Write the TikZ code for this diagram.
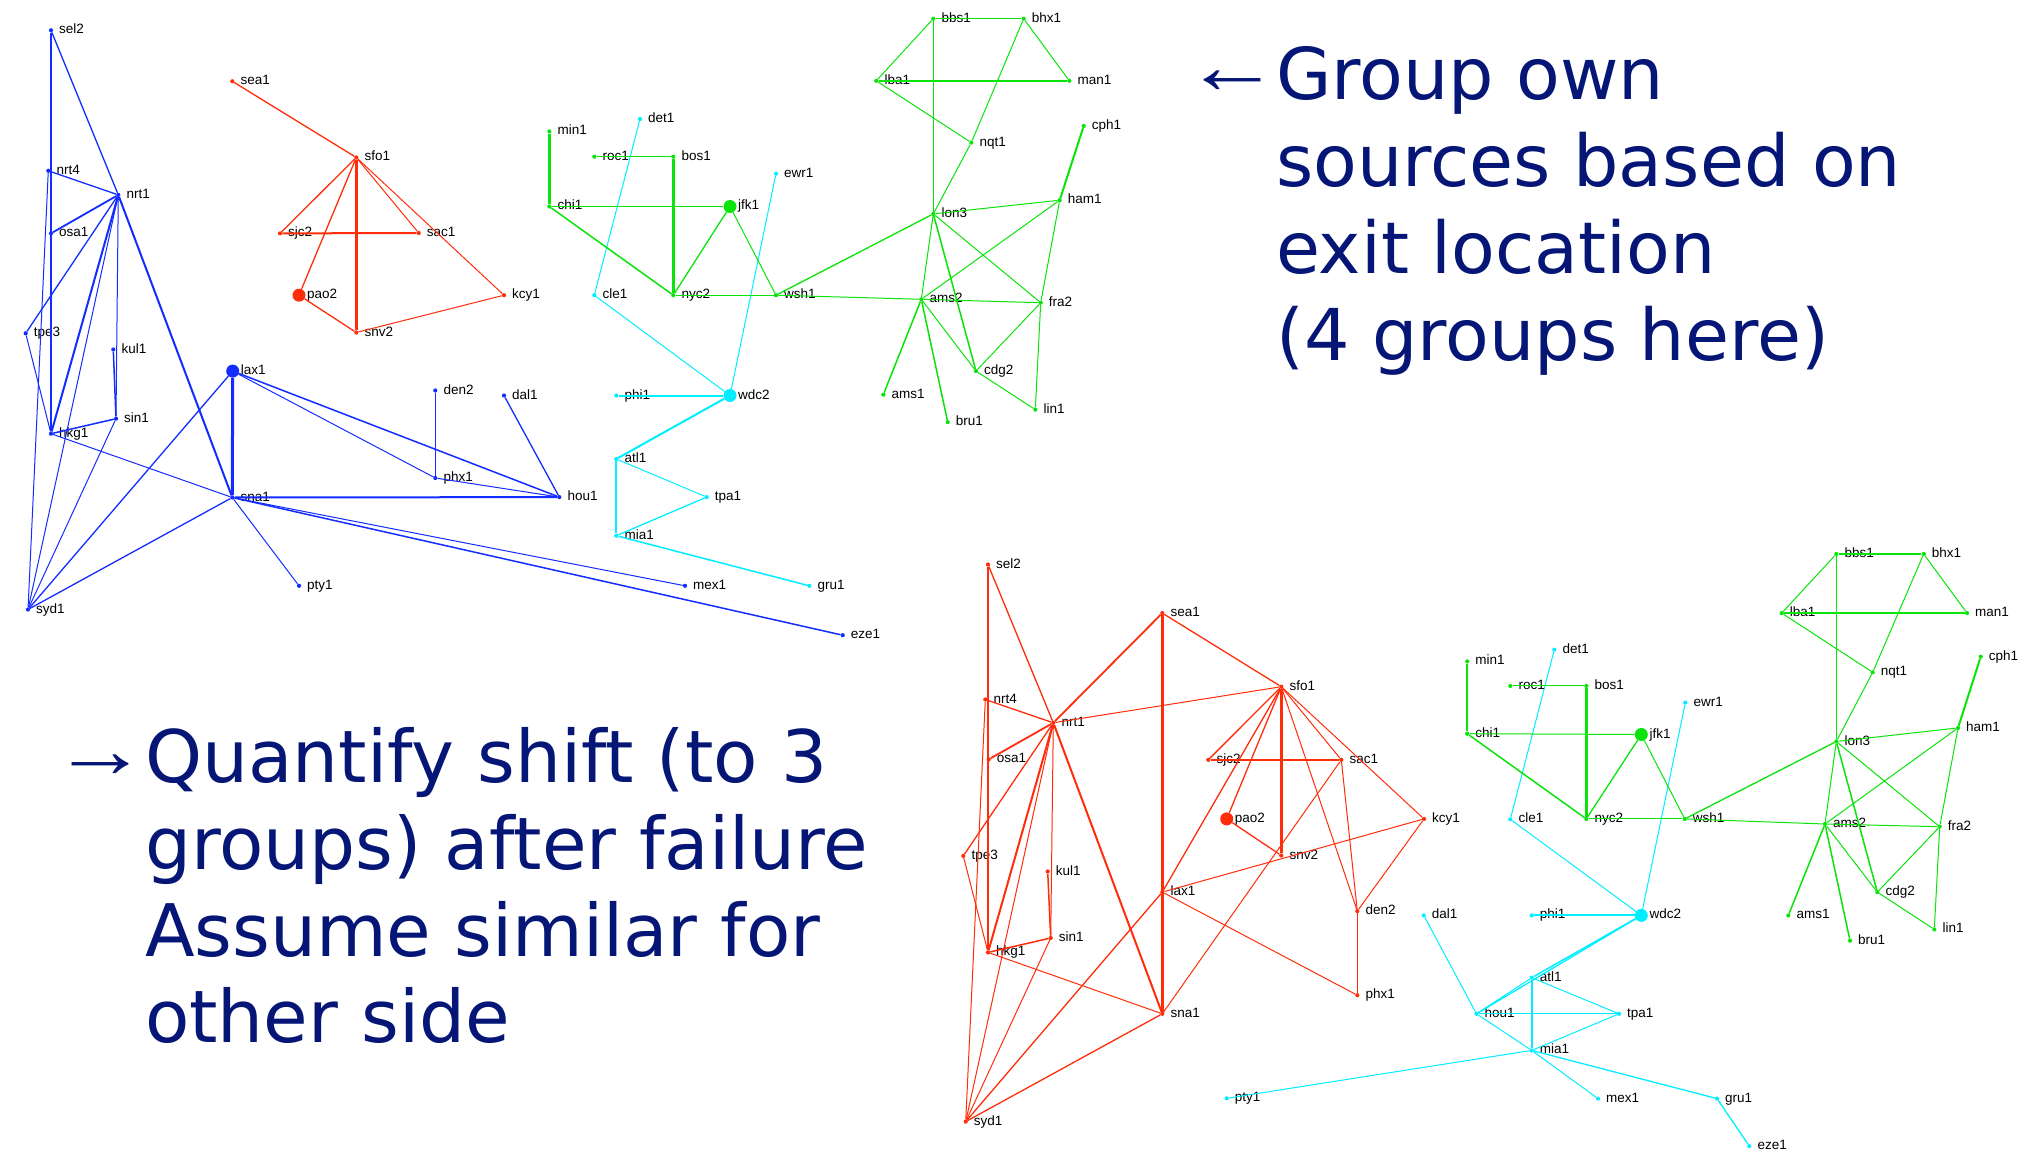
\documentclass[tikz,border=0pt]{standalone}
\usepackage{fontspec}
\setmainfont{Liberation Sans}
\newfontfamily\headfont{DejaVu Sans}
\definecolor{cBlue}{RGB}{20,45,255}
\definecolor{cRed}{RGB}{255,45,10}
\definecolor{cGreen}{RGB}{10,228,10}
\definecolor{cCyan}{RGB}{0,238,255}
\definecolor{cNavy}{RGB}{5,22,118}
\begin{document}
\begin{tikzpicture}[x=1pt,y=-1pt,
  sdot/.style={circle,fill,inner sep=0pt,minimum size=4.2pt},
  bdot/.style={circle,fill,inner sep=0pt,minimum size=13pt},
  lbl/.style={anchor=base west,inner sep=0pt,text=black,font=\fontsize{13.5}{16}\selectfont},
  head/.style={anchor=base west,inner sep=0pt,text=cNavy,font=\headfont\fontsize{71.5}{85}\selectfont},
  headb/.style={head,font=\headfont\fontsize{72.5}{85}\selectfont},
  harrow/.style={anchor=base,inner sep=0pt,text=cNavy,font=\fontsize{80}{90}\selectfont}]
\fill[white] (0,0) rectangle (2025,1150);
\useasboundingbox (0,0) rectangle (2025,1150);

% ================= TOP GRAPH (prefix a) =================
\begin{scope}[color=cBlue]
\foreach \n/\x/\y in {sel2/51/30.3, nrt4/48.3/170.8, nrt1/118.3/194.9, osa1/51/233.4,
  tpe3/25.7/333.3, kul1/113.3/349.5, sin1/116/418.7, hkg1/51/433.7, syd1/28/609.5,
  sna1/232.3/497.5, pty1/299/585.8, den2/435.3/390.5, dal1/504/395.5, phx1/435.3/478,
  hou1/559.3/497.1, mex1/685/585.8, eze1/842.7/635.2}
  {\node[sdot] (a-\n) at (\x,\y) {}; \node[lbl] (a-\n-t) at (\x+8,\y+3.5) {\n};}
\node[bdot] (a-lax1) at (232.7,371.1) {}; \node[lbl] (a-lax1-t) at (240.7,374.6) {lax1};
\foreach \u/\v/\w in {sel2/hkg1/2.8, sel2/nrt1/1.3, nrt4/nrt1/1.3, nrt4/syd1/1.0,
  osa1/nrt1/1.8, tpe3/nrt1/1.3, tpe3/hkg1/1.0, nrt1/hkg1/2.0, nrt1/syd1/1.0,
  nrt1/sin1/1.0, kul1/sin1/1.5, sin1/hkg1/1.5, sin1/syd1/1.0, hkg1/sna1/1.0,
  nrt1/sna1/2.0, lax1/sna1/3.0, lax1/syd1/1.3, sna1/syd1/1.3, sna1/pty1/1.0,
  sna1/hou1/2.0, sna1/mex1/1.0, sna1/eze1/1.5, lax1/hou1/1.5, lax1/phx1/1.0,
  phx1/den2/1.3, phx1/hou1/1.0, dal1/hou1/1.3}
  {\draw[line width=\w pt] (a-\u) -- (a-\v);}
\end{scope}

\begin{scope}[color=cRed]
\foreach \n/\x/\y in {sea1/232.3/81.3, sfo1/356.3/157.5, sjc2/280/233.4,
  snv2/356.3/332.5, sac1/418.7/233, kcy1/504/295.2}
  {\node[sdot] (a-\n) at (\x,\y) {}; \node[lbl] (a-\n-t) at (\x+8,\y+3.5) {\n};}
\node[bdot] (a-pao2) at (299,295.2) {}; \node[lbl] (a-pao2-t) at (307,298.7) {pao2};
\foreach \u/\v/\w in {sea1/sfo1/1.3, sfo1/sjc2/1.3, sfo1/pao2/1.3, sfo1/snv2/2.5,
  sfo1/sac1/1.0, sfo1/kcy1/1.0, sjc2/sac1/2.0, pao2/snv2/1.3, snv2/kcy1/1.0}
  {\draw[line width=\w pt] (a-\u) -- (a-\v);}
\end{scope}

\begin{scope}[color=cCyan]
\foreach \n/\x/\y in {det1/640/119, cle1/594.3/295.2, ewr1/776/173.7, phi1/616.3/395.5,
  atl1/616.3/459, tpa1/706.7/497.1, mia1/616.3/535.7, gru1/809.3/585.8}
  {\node[sdot] (a-\n) at (\x,\y) {}; \node[lbl] (a-\n-t) at (\x+8,\y+3.5) {\n};}
\node[bdot] (a-wdc2) at (730,395.5) {}; \node[lbl] (a-wdc2-t) at (738,399) {wdc2};
\foreach \u/\v/\w in {det1/cle1/1.0, cle1/wdc2/1.0, ewr1/wdc2/1.0, phi1/wdc2/2.0,
  wdc2/atl1/2.0, atl1/mia1/2.0, atl1/tpa1/1.0, tpa1/mia1/1.3, mia1/gru1/1.5}
  {\draw[line width=\w pt] (a-\u) -- (a-\v);}
\end{scope}

\begin{scope}[color=cGreen]
\foreach \n/\x/\y in {min1/549.3/131.4, roc1/594.3/156.7, bos1/673.3/156.7,
  chi1/549.3/206.5, nyc2/673.3/295.2, wsh1/776/295.2, bbs1/933.3/18.7,
  bhx1/1023.7/18.7, lba1/876.3/80.8, man1/1069.3/80.8, nqt1/971.3/142.6,
  cph1/1083.7/126, ham1/1059.7/200.2, lon3/933.3/213.9, ams2/921.3/299.3,
  fra2/1040.7/302.7, cdg2/976/371.1, ams1/883.3/394.7, lin1/1035.3/409.6,
  bru1/947.7/422.1}
  {\node[sdot] (a-\n) at (\x,\y) {}; \node[lbl] (a-\n-t) at (\x+8,\y+3.5) {\n};}
\node[bdot] (a-jfk1) at (730,206.5) {}; \node[lbl] (a-jfk1-t) at (738,210) {jfk1};
\end{scope}

% ================= BOTTOM GRAPH (prefix b) =================
\begin{scope}[color=cRed]
\foreach \n/\x/\y in {sel2/988/564.5, sea1/1162.3/613.1, nrt4/985.3/699.5,
  nrt1/1053.3/722.8, osa1/988.7/759.4, sjc2/1208.3/759.8, tpe3/963.3/855.9,
  kul1/1047.7/871.5, lax1/1162.3/892.1, sin1/1050.7/938, hkg1/988/952.4,
  sna1/1162.3/1013.8, syd1/965.7/1121.6, sfo1/1281.3/686.7, sac1/1341.3/759.8,
  snv2/1281.3/855.5, kcy1/1424/818.9, den2/1357.3/911.1, phx1/1357.3/995.2}
  {\node[sdot] (b-\n) at (\x,\y) {}; \node[lbl] (b-\n-t) at (\x+8,\y+3.5) {\n};}
\node[bdot] (b-pao2) at (1226.7,818.9) {}; \node[lbl] (b-pao2-t) at (1234.7,822.4) {pao2};
\foreach \u/\v/\w in {sel2/hkg1/2.5, sel2/nrt1/1.3, nrt4/nrt1/1.3, nrt4/syd1/1.0,
  osa1/nrt1/1.8, tpe3/nrt1/1.3, tpe3/hkg1/1.0, nrt1/hkg1/2.0, nrt1/syd1/1.0,
  nrt1/sin1/1.0, kul1/sin1/1.5, sin1/hkg1/1.5, sin1/syd1/1.0, hkg1/sna1/1.0,
  nrt1/sna1/2.0, nrt1/sea1/1.8, nrt1/sfo1/1.0, sea1/sna1/2.5, sea1/sfo1/1.3,
  lax1/syd1/1.3, sna1/syd1/1.3, lax1/phx1/1.0, lax1/kcy1/1.0, lax1/sfo1/1.3,
  sac1/sna1/1.0, sfo1/sjc2/1.3, sfo1/pao2/1.3, sfo1/snv2/2.5, sfo1/sac1/1.0,
  sfo1/kcy1/1.0, sfo1/den2/1.0, sjc2/sac1/2.0, pao2/snv2/1.3, sac1/den2/1.0,
  kcy1/den2/1.0, den2/phx1/1.5}
  {\draw[line width=\w pt] (b-\u) -- (b-\v);}
\end{scope}

\begin{scope}[color=cCyan]
\foreach \n/\x/\y in {pty1/1226.7/1098.3, dal1/1423.7/915.4, hou1/1476.5/1013.8,
  det1/1554.3/649.7, ewr1/1685.3/702.6, cle1/1510.3/819.3, phi1/1531.7/915.4,
  atl1/1531.7/977.7, tpa1/1619/1013.8, mia1/1531.7/1050.4, mex1/1598/1098.6,
  gru1/1717/1098.6, eze1/1749.3/1146.1}
  {\node[sdot] (b-\n) at (\x,\y) {}; \node[lbl] (b-\n-t) at (\x+8,\y+3.5) {\n};}
\node[bdot] (b-wdc2) at (1641.3,915.4) {}; \node[lbl] (b-wdc2-t) at (1649.3,918.9) {wdc2};
\foreach \u/\v/\w in {det1/cle1/1.0, cle1/wdc2/1.0, ewr1/wdc2/1.0, phi1/wdc2/2.0,
  wdc2/atl1/1.5, wdc2/hou1/1.3, atl1/hou1/1.0, atl1/mia1/2.0, atl1/tpa1/1.0,
  hou1/tpa1/1.3, hou1/mia1/1.0, tpa1/mia1/1.0, mia1/mex1/1.0, mia1/gru1/1.3,
  mia1/pty1/1.0, gru1/eze1/1.3, dal1/hou1/1.0}
  {\draw[line width=\w pt] (b-\u) -- (b-\v);}
\end{scope}

\begin{scope}[color=cGreen]
\foreach \n/\x/\y in {min1/1467.2/661.4, chi1/1467.2/733.7, roc1/1510.3/685.9,
  bos1/1586.3/685.9, nyc2/1586.3/818.9, wsh1/1684.7/818.9, bbs1/1836.3/554,
  bhx1/1923.7/554, lba1/1781.7/613.1, man1/1967/613.1, cph1/1980.7/656.7,
  nqt1/1872.7/672.3, ham1/1958/727.9, lon3/1836.3/741.5, ams2/1825/824,
  fra2/1939.7/826.7, cdg2/1877.3/892.1, ams1/1788.3/915.4, lin1/1934.3/929.4,
  bru1/1850/940.7}
  {\node[sdot] (b-\n) at (\x,\y) {}; \node[lbl] (b-\n-t) at (\x+8,\y+3.5) {\n};}
\node[bdot] (b-jfk1) at (1641.3,734.5) {}; \node[lbl] (b-jfk1-t) at (1649.3,738) {jfk1};
% green edges, same in both graphs
\foreach \p in {a,b}{
  \foreach \u/\v/\w in {min1/chi1/2.5, roc1/bos1/1.0, bos1/nyc2/2.5, chi1/jfk1/1.0,
    chi1/nyc2/1.5, jfk1/nyc2/1.3, jfk1/wsh1/1.0, nyc2/wsh1/1.0, wsh1/lon3/1.3,
    wsh1/ams2/1.0, bbs1/bhx1/1.5, bbs1/lba1/1.0, bbs1/lon3/1.5, lba1/man1/1.5,
    lba1/nqt1/1.0, bhx1/man1/1.0, bhx1/nqt1/1.0, nqt1/lon3/1.0, cph1/ham1/2.0,
    ham1/lon3/1.0, ham1/ams2/1.0, ham1/fra2/1.0, lon3/ams2/1.0, lon3/cdg2/1.5,
    lon3/fra2/1.0, ams2/fra2/1.0, ams2/cdg2/1.0, ams2/ams1/1.5, ams2/bru1/1.5,
    fra2/cdg2/1.0, fra2/lin1/1.0, cdg2/lin1/1.0}
    {\draw[line width=\w pt] (\p-\u) -- (\p-\v);}
}
\end{scope}

% ================= TEXT =================
\node[harrow] (arr1) at (1232,93.5) {\scalebox{1.2}[1]{←}};
\node[head] (g1) at (1276,100) {Group own};
\node[head] (g2) at (1276,186.7) {sources based on};
\node[head] (g3) at (1276,273.4) {exit location};
\node[head] (g4) at (1276,360) {(4 groups here)};

\node[harrow] (arr2) at (100,777.8) {\scalebox{1.2}[1]{→}};
\node[headb] (q1) at (145,782.7) {Quantify shift (to 3};
\node[headb] (q2) at (145,869.4) {groups) after failure};
\node[headb] (q3) at (145,956) {Assume similar for};
\node[headb] (q4) at (145,1042.7) {other side};
\end{tikzpicture}
\end{document}
